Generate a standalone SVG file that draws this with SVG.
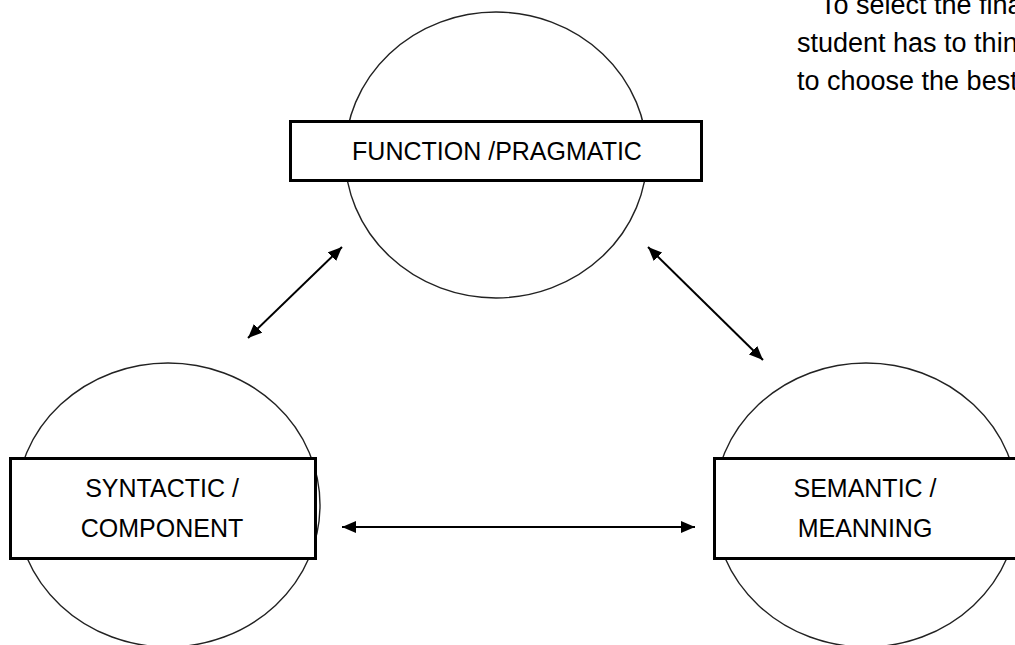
<svg xmlns="http://www.w3.org/2000/svg" width="1015" height="645" viewBox="0 0 1015 645">
  <style>
    .circ { fill: #ffffff; stroke: #222222; stroke-width: 1.4; }
    .box { fill: #ffffff; stroke: #000000; stroke-width: 3; }
    .lbl { font-family: "Liberation Sans", Arial, sans-serif; font-size: 25px; fill: #000000; text-anchor: middle; }
    .para { font-family: "Liberation Sans", Arial, sans-serif; font-size: 27px; fill: #000000; }
    .conn { stroke: #000000; stroke-width: 2; fill: none; marker-start: url(#ah); marker-end: url(#ah); }
  </style>
  <defs>
    <marker id="ah" viewBox="0 0 14 12" refX="14" refY="6" markerWidth="14" markerHeight="12" markerUnits="userSpaceOnUse" orient="auto-start-reverse">
      <path d="M0,0 L14,6 L0,12 Z" fill="#000000"/>
    </marker>
  </defs>
  <rect width="1015" height="645" fill="#ffffff"/>

  <g id="paragraph">
    <text class="para" x="820" y="14">To select the final</text>
    <text class="para" x="797" y="52">student has to think</text>
    <text class="para" x="797" y="90">to choose the best</text>
  </g>

  <g id="connectors">
    <line class="conn" x1="248" y1="338" x2="342" y2="247"/>
    <line class="conn" x1="648" y1="247" x2="763" y2="360"/>
    <line class="conn" x1="342" y1="527" x2="695" y2="527"/>
  </g>

  <g id="node-function">
    <ellipse class="circ" cx="496" cy="155" rx="151" ry="143"/>
    <rect class="box" x="290.5" y="121.5" width="411" height="59"/>
    <text class="lbl" x="497" y="160">FUNCTION /PRAGMATIC</text>
  </g>

  <g id="node-syntactic">
    <ellipse class="circ" cx="168" cy="505" rx="152" ry="142"/>
    <rect class="box" x="10.5" y="458.5" width="305" height="100"/>
    <text class="lbl" x="162" y="497">SYNTACTIC /</text>
    <text class="lbl" x="162" y="537">COMPONENT</text>
  </g>

  <g id="node-semantic">
    <ellipse class="circ" cx="866" cy="505" rx="152" ry="142"/>
    <rect class="box" x="714.5" y="458.5" width="310" height="100"/>
    <text class="lbl" x="865" y="497">SEMANTIC /</text>
    <text class="lbl" x="865" y="537">MEANNING</text>
  </g>
</svg>
